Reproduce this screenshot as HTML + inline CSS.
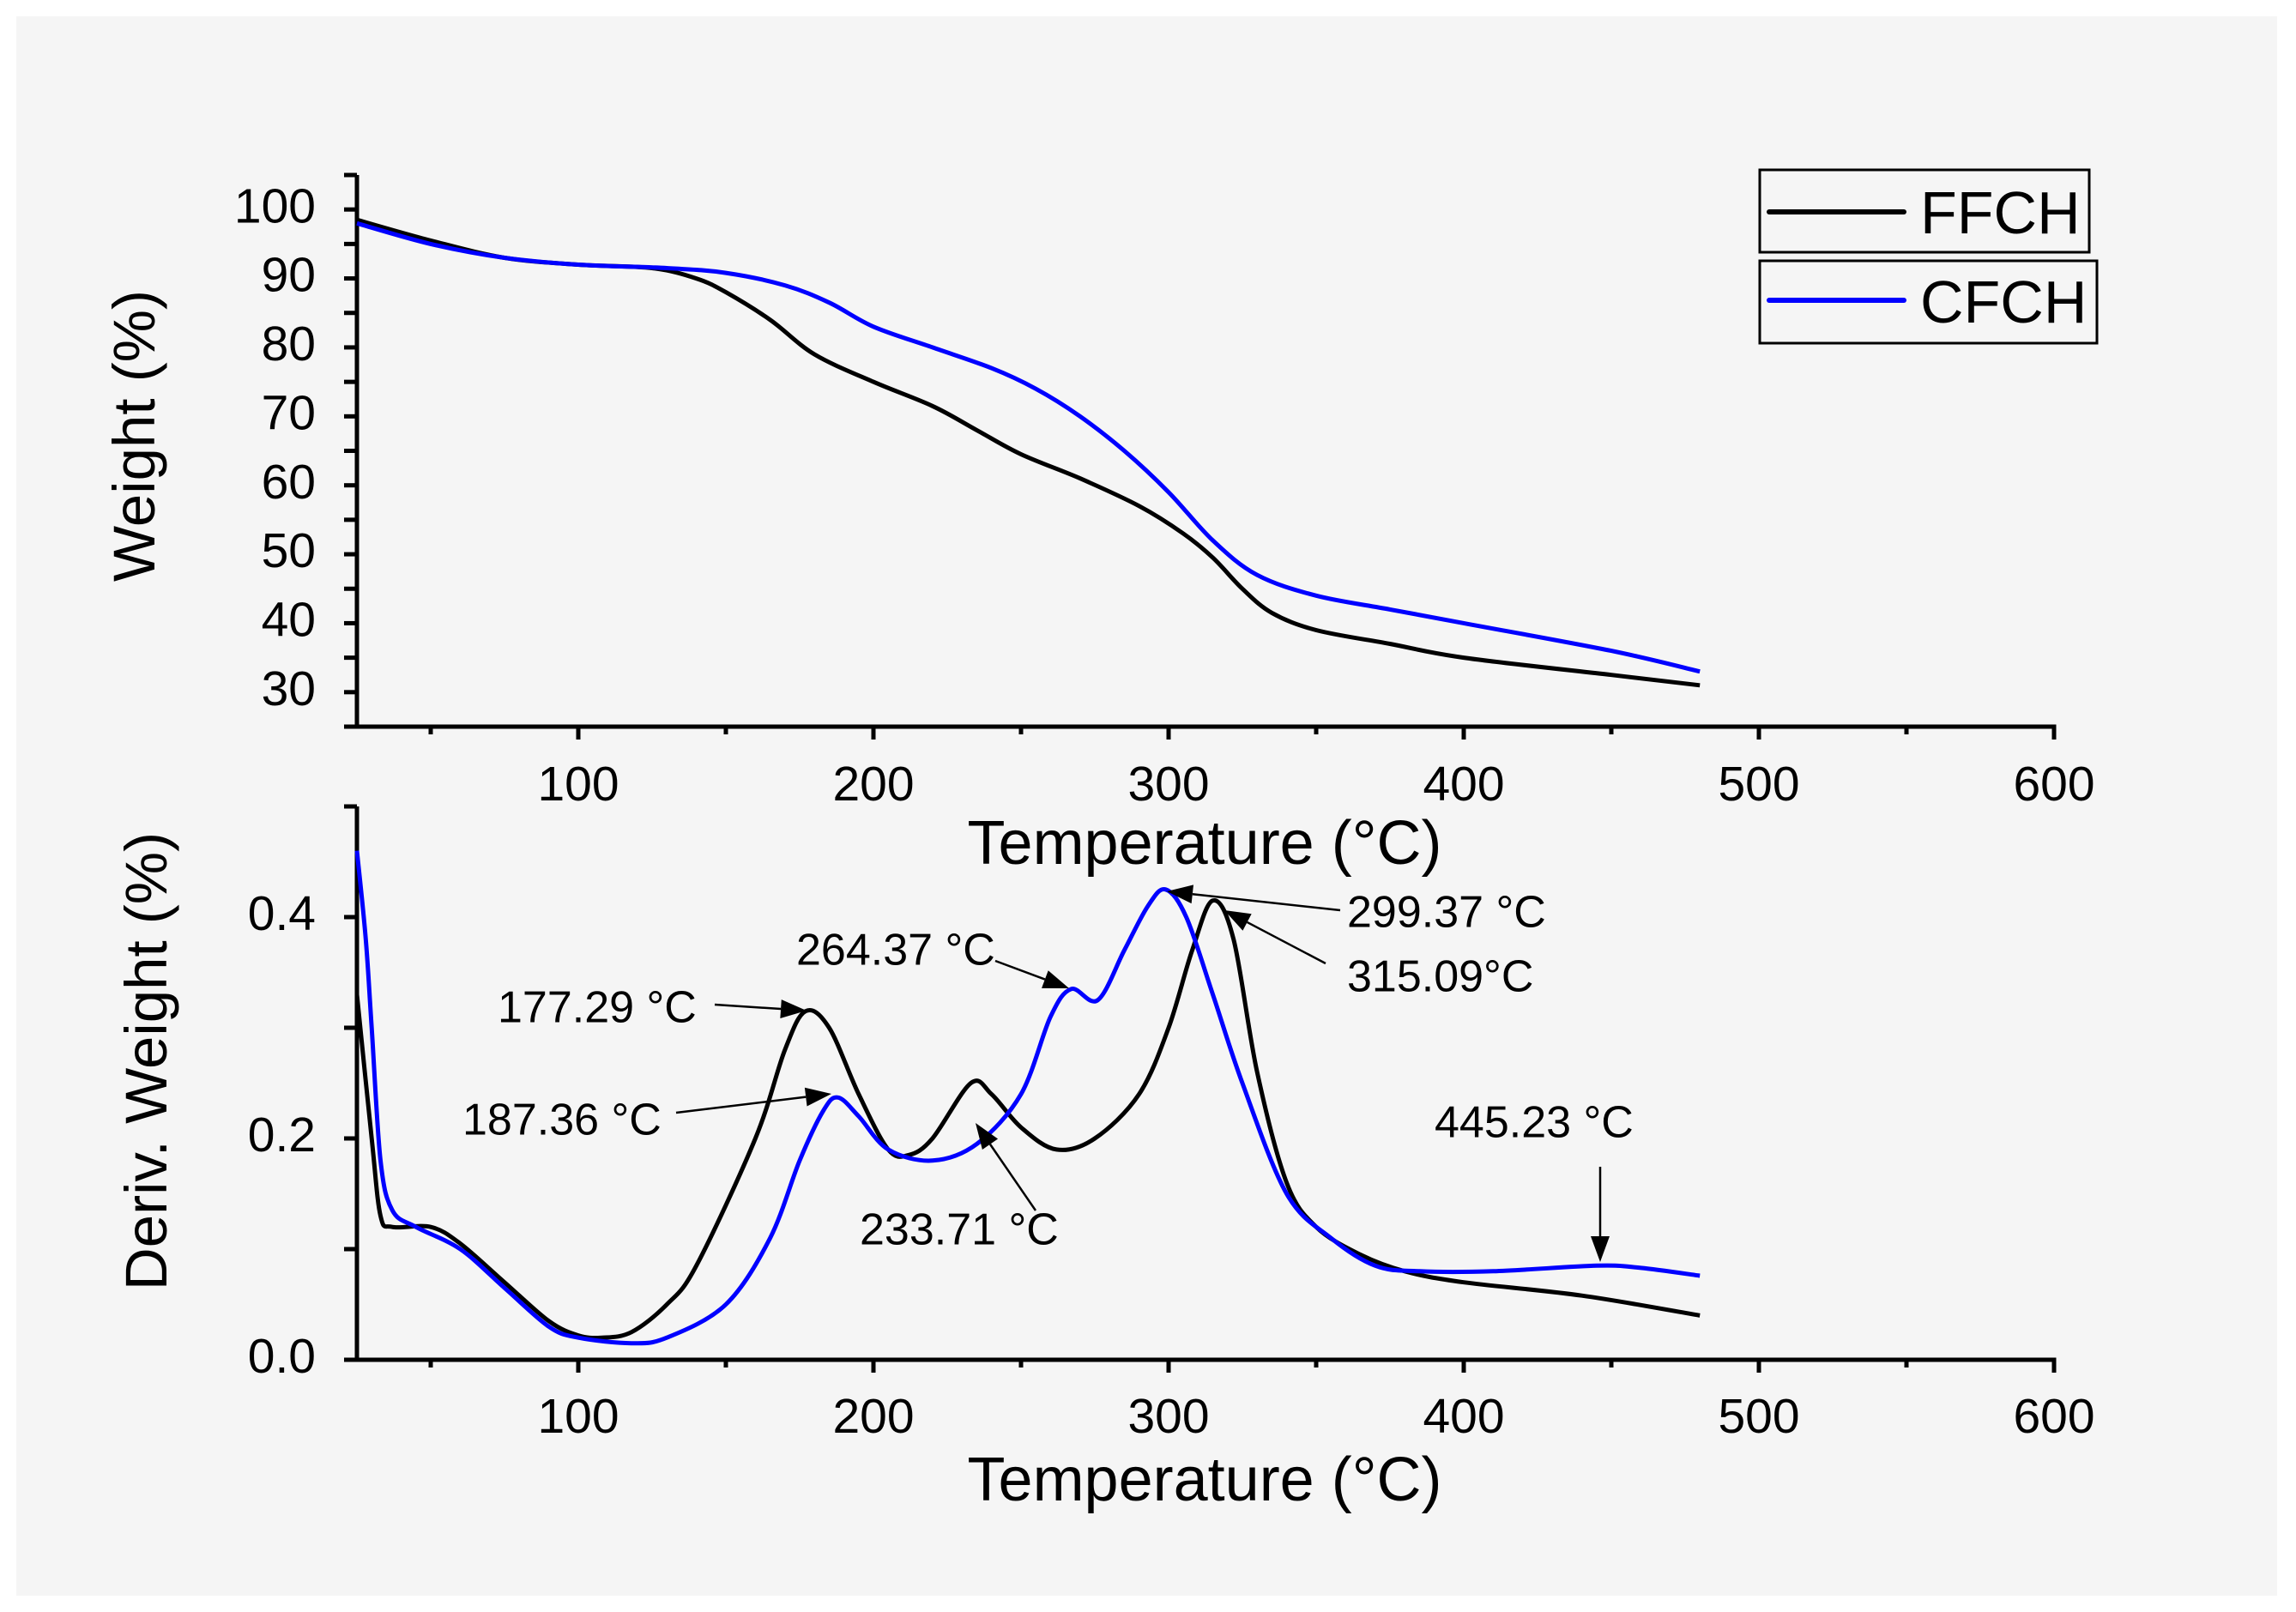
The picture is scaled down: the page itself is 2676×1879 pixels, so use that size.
<!DOCTYPE html>
<html><head><meta charset="utf-8"><style>
html,body{margin:0;padding:0;background:#fff;}
svg{display:block;font-family:"Liberation Sans",Arial,sans-serif;}
</style></head><body>
<svg id="chart" width="2676" height="1879" viewBox="0 0 2676 1879" xmlns="http://www.w3.org/2000/svg">
<rect x="0" y="0" width="2676" height="1879" fill="#ffffff"/>
<rect x="19" y="19" width="2635" height="1841" fill="#f5f5f5"/>
<g id="gtop"></g>
<g id="gbot"></g>
<g id="ann"></g>
<g>
  <rect x="2051" y="198" width="384" height="96" fill="none" stroke="#000" stroke-width="3"/>
  <line x1="2062" y1="247" x2="2219" y2="247" stroke="#000" stroke-width="6" stroke-linecap="round"/>
  <text x="2238" y="272" font-size="70">FFCH</text>
  <rect x="2051" y="304" width="393" height="96" fill="none" stroke="#000" stroke-width="3"/>
  <line x1="2062" y1="350" x2="2219" y2="350" stroke="#0000ff" stroke-width="6" stroke-linecap="round"/>
  <text x="2238" y="376" font-size="70">CFCH</text>
</g>
</svg>
<script>
const tgaTempF = [25,50,75,100,125,140,150,165,180,200,220,235,250,270,290,305,315,325,335,350,375,400,450,480];
const tgaWeightF = [98.5,95.5,93,92,91.5,90,88,84,79,75,71.5,68,64.5,61,57,53,49.5,45,41.5,39,37,35,32.5,31];
const tgaTempC = [25,50,75,100,130,150,170,185,200,220,240,255,270,285,300,315,330,350,375,400,450,480];
const tgaWeightC = [98,95,93,92,91.5,90.8,89,86.5,83,80,77,74,70,65,59,52,47,44,42,40,36,33];
const dtgTempF = [25,30,33,37,50,60,75,90,100,108,118,130,140,160,170,177,185,195,205,212,220,233,240,250,262,275,290,300,308,315,322,330,340,350,365,380,400,440,480];
const dtgValF = [0.33,0.2,0.13,0.12,0.12,0.105,0.07,0.035,0.022,0.02,0.025,0.05,0.085,0.2,0.28,0.315,0.3,0.24,0.19,0.185,0.2,0.25,0.24,0.21,0.19,0.2,0.24,0.3,0.37,0.415,0.38,0.26,0.16,0.12,0.095,0.08,0.07,0.058,0.04];
const dtgTempC = [25,28,30,33,37,45,60,75,90,100,118,130,150,165,175,183,188,195,205,220,235,250,260,267,276,285,293,299,306,315,325,340,355,370,385,410,445,460,480];
const dtgValC = [0.46,0.38,0.3,0.18,0.135,0.12,0.1,0.065,0.03,0.02,0.015,0.02,0.05,0.11,0.18,0.225,0.237,0.22,0.19,0.18,0.195,0.24,0.31,0.335,0.325,0.37,0.41,0.425,0.4,0.33,0.25,0.15,0.11,0.085,0.08,0.08,0.085,0.083,0.076];
const xTicks = [100,200,300,400,500,600];
const yTicksTop = [30,40,50,60,70,80,90,100];
const yTicksBot = [0.0,0.2,0.4];
const yTickLabelsBot = ["0.0","0.2","0.4"];

const NS="http://www.w3.org/2000/svg";
function el(tag,attrs,parent,txt){const e=document.createElementNS(NS,tag);for(const k in attrs)e.setAttribute(k,attrs[k]);if(txt!==undefined)e.textContent=txt;parent.appendChild(e);return e;}
const xL=416, xR=2394;
const xScale=t=>330+(t)*3.44;
function yTopF(v){return 847-(v-25)*(847-204)/80;}
function yBotF(v){return 1585-v*(1585-940)/0.5;}
function pathFrom(xs,ys,xf,yf){
  const p=xs.map((x,i)=>[xf(x),yf(ys[i])]);
  let d="M"+p[0][0].toFixed(1)+","+p[0][1].toFixed(1);
  for(let i=0;i<p.length-1;i++){
    const p0=p[Math.max(0,i-1)],p1=p[i],p2=p[i+1],p3=p[Math.min(p.length-1,i+2)];
    const c1=[p1[0]+(p2[0]-p0[0])/6,p1[1]+(p2[1]-p0[1])/6];
    const c2=[p2[0]-(p3[0]-p1[0])/6,p2[1]-(p3[1]-p1[1])/6];
    d+=" C"+c1[0].toFixed(1)+","+c1[1].toFixed(1)+" "+c2[0].toFixed(1)+","+c2[1].toFixed(1)+" "+p2[0].toFixed(1)+","+p2[1].toFixed(1);
  }
  return d;
}
function axes(g,yf,yTop0,yBotPx,ticks,labels,minorStep,vmin,vmax,titleY,ytitle,ytitleX,ytitleY,labelY){
  let a=el("line",{x1:xL,y1:yTop0,x2:xL,y2:yBotPx+2.5,stroke:"#000","stroke-width":5},g);
  
  
  a=el("line",{x1:xL-2.5,y1:yBotPx,x2:xR+2.5,y2:yBotPx,stroke:"#000","stroke-width":5},g);
  
  
  for(let t=50;t<=600;t+=50){
    const major=t%100===0;const x=xScale(t);
    const tk=el("line",{x1:x,y1:yBotPx,x2:x,y2:yBotPx+(major?15:9),stroke:"#000","stroke-width":5},g);
    
    
  }
  xTicks.forEach(t=>{
    const tx=el("text",{x:xScale(t),y:labelY,"font-size":57,"text-anchor":"middle","dominant-baseline":"middle"},g,String(t));
    
    
  });
  for(let v=vmin;v<=vmax+1e-9;v+=minorStep){
    const y=yf(v);
    const tk=el("line",{x1:xL-15,y1:y,x2:xL,y2:y,stroke:"#000","stroke-width":5},g);
    
    
  }
  ticks.forEach((v,i)=>{
    const tx=el("text",{x:368,y:yf(v),"font-size":57,"text-anchor":"end","dominant-baseline":"middle"},g,labels[i]);
    
    
  });
  let t=el("text",{x:1404,y:titleY,"font-size":72,"text-anchor":"middle","dominant-baseline":"middle"},g,"Temperature (°C)");
  
  
  t=el("text",{x:ytitleX,y:ytitleY,"font-size":69,"text-anchor":"middle","dominant-baseline":"middle",transform:`rotate(-90 ${ytitleX} ${ytitleY})`},g,ytitle);
  
  
}
const gTop=document.getElementById("gtop"), gBot=document.getElementById("gbot"), gAnn=document.getElementById("ann");
axes(gTop,yTopF,204,847,yTicksTop,yTicksTop.map(String),5,25,105,988,"Weight (%)",162,508,918);
axes(gBot,yBotF,940,1585,yTicksBot,yTickLabelsBot,0.1,0,0.5,1730,"Deriv. Weight (%)",176,1237,1655);
let s;
s=el("path",{d:pathFrom(tgaTempF,tgaWeightF,xScale,yTopF),fill:"none",stroke:"#000","stroke-width":5},gTop);


s=el("path",{d:pathFrom(tgaTempC,tgaWeightC,xScale,yTopF),fill:"none",stroke:"#0000ff","stroke-width":5},gTop);


s=el("path",{d:pathFrom(dtgTempF,dtgValF,xScale,yBotF),fill:"none",stroke:"#000","stroke-width":5},gBot);


s=el("path",{d:pathFrom(dtgTempC,dtgValC,xScale,yBotF),fill:"none",stroke:"#0000ff","stroke-width":5},gBot);



const annotations=[
 ["299.37 °C",1570,1067,1562,1061,1360,1039],
 ["315.09°C",1570,1142,1545,1123,1427,1061],
 ["264.37 °C",928,1111,1160,1120,1246,1152],
 ["177.29 °C",580,1178,833,1171,940,1178],
 ["187.36 °C",539,1309,788,1297,969,1275],
 ["233.71 °C",1002,1437,1207,1411,1137,1309],
 ["445.23 °C",1672,1312,1865,1360,1865,1471]
];
annotations.forEach(a=>{
  const t=el("text",{x:a[1],y:a[2],"font-size":52,"dominant-baseline":"middle"},gAnn,a[0]);
  
  
  const x1=a[3],y1=a[4],x2=a[5],y2=a[6];
  const ang=Math.atan2(y2-y1,x2-x1), L=30, W=11;
  const bx=x2-L*Math.cos(ang), by=y2-L*Math.sin(ang);
  const ln=el("line",{x1:x1,y1:y1,x2:bx,y2:by,stroke:"#000","stroke-width":2.5},gAnn);
  
  
  const px=-Math.sin(ang),py=Math.cos(ang);
  const hd=el("polygon",{points:`${x2},${y2} ${bx+px*W},${by+py*W} ${bx-px*W},${by-py*W}`,fill:"#000"},gAnn);
  
  
});
</script>
</body></html>
